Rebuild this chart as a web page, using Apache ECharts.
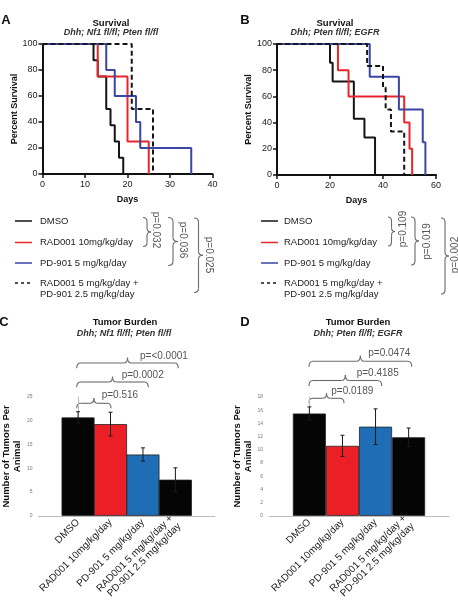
<!DOCTYPE html>
<html>
<head>
<meta charset="utf-8">
<script src="https://cdn.jsdelivr.net/npm/echarts@6/dist/echarts.min.js"></script>
<style>
html, body { margin: 0; padding: 0; background: #fff; }
#fig { width: 458px; height: 604px; }
</style>
</head>
<body>
<div id="fig"></div>
<script>
// treatment groups
const treatments = ['DMSO', 'RAD001 10mg/kg/day', 'PD-901 5 mg/kg/day', 'RAD001 5 mg/kg/day +\nPD-901 2.5 mg/kg/day'];

// A : Dhh; Nf1 fl/fl; Pten fl/fl  (days, percent survival)
const daysA_dmso = [0, 12, 13, 15, 16, 17, 18, 19];
const survA_dmso = [100, 87.5, 75, 50, 37.5, 25, 12.5, 0];
const daysA_rad = [0, 13, 20, 25];
const survA_rad = [100, 75, 25, 0];
const daysA_pd = [0, 15, 17, 22, 23, 35];
const survA_pd = [100, 80, 60, 40, 20, 0];
const daysA_combo = [0, 21, 26];
const survA_combo = [100, 50, 0];

// B : Dhh; Pten fl/fl; EGFR
const daysB_dmso = [0, 20, 21, 29, 33, 37];
const survB_dmso = [100, 85.7, 71.4, 42.9, 28.6, 0];
const daysB_rad = [0, 23, 27, 48, 50, 51];
const survB_rad = [100, 80, 60, 40, 20, 0];
const daysB_pd = [0, 35, 46, 55, 56];
const survB_pd = [100, 75, 50, 25, 0];
const daysB_combo = [0, 34, 40, 41, 43, 48];
const survB_combo = [100, 83.3, 66.7, 50, 33.3, 0];

// C / D : tumor burden, mean and error
const tumorsC = [20.7, 19.3, 12.9, 7.6];
const errC = [1.2, 2.5, 1.4, 2.5];
const tumorsD = [15.5, 10.6, 13.5, 11.9];
const errD = [1.0, 1.6, 2.7, 1.4];

// p values
const pLegendA = ['p=0.032', 'p=0.036', 'p=0.025'];
const pLegendB = ['p=0.109', 'p=0.019', 'p=0.002'];
const pBarC = ['p=0.516', 'p=0.0002', 'p=<0.0001'];
const pBarD = ['p=0.0189', 'p=0.4185', 'p=0.0474'];

const FONT = '"Liberation Sans", Arial, Helvetica, sans-serif';
const lineColors = ['#151515', '#e8262b', '#3b45a3', '#151515'];
const lineTypes = ['solid', 'solid', 'solid', [5, 3]];
const barColors = ['#050505', '#ec1f26', '#1f6db5', '#050505'];

const pairs = (d, s) => d.map((v, i) => [v, s[i]]);
const survA = [pairs(daysA_dmso, survA_dmso), pairs(daysA_rad, survA_rad), pairs(daysA_pd, survA_pd), pairs(daysA_combo, survA_combo)];
const survB = [pairs(daysB_dmso, survB_dmso), pairs(daysB_rad, survB_rad), pairs(daysB_pd, survB_pd), pairs(daysB_combo, survB_combo)];

function survX(grid, max, interval) {
    return {
        gridIndex: grid, type: 'value', min: 0, max: max, interval: interval,
        name: 'Days', nameLocation: 'middle', nameGap: 21,
        nameTextStyle: {fontFamily: FONT, fontWeight: 'bold', fontSize: 9, color: '#111'},
        axisLine: {lineStyle: {color: '#111', width: 2}},
        axisTick: {length: 4, lineStyle: {color: '#111', width: 1.5}},
        axisLabel: {fontFamily: FONT, fontSize: 9, color: '#222', margin: 6},
        splitLine: {show: false}
    };
}
function survY(grid) {
    return {
        gridIndex: grid, type: 'value', min: 0, max: 100, interval: 20,
        name: 'Percent Survival', nameLocation: 'middle', nameGap: 17,
        nameTextStyle: {fontFamily: FONT, fontWeight: 'bold', fontSize: 9, color: '#111'},
        axisLine: {show: true, lineStyle: {color: '#111', width: 2}},
        axisTick: {show: true, length: 4, lineStyle: {color: '#111', width: 1.5}},
        axisLabel: {fontFamily: FONT, fontSize: 9, color: '#222', margin: 5},
        splitLine: {show: false}
    };
}
function barX(grid) {
    return {
        gridIndex: grid, type: 'value', min: -1.22, max: 4.22,
        axisLine: {lineStyle: {color: '#bdbdbd', width: 1}},
        axisTick: {show: false},
        axisLabel: {
            customValues: [0, 1, 2, 3], formatter: v => treatments[v],
            rotate: 45, fontFamily: FONT, fontSize: 10, color: '#222', margin: 5, lineHeight: 11
        },
        splitLine: {show: false}
    };
}
function barY(grid, max, interval) {
    return {
        gridIndex: grid, type: 'value', min: 0, max: max, interval: interval,
        name: 'Number of Tumors Per\nAnimal', nameLocation: 'middle', nameGap: 10,
        nameTextStyle: {fontFamily: FONT, fontWeight: 'bold', fontSize: 9.5, color: '#111', lineHeight: 11},
        axisLine: {show: true, lineStyle: {color: '#bdbdbd', width: 1}},
        axisTick: {show: false},
        axisLabel: {fontFamily: FONT, fontSize: 5, color: '#777', margin: 6},
        splitLine: {show: false}
    };
}

const series = [];
[survA, survB].forEach((set, g) => {
    set.forEach((d, i) => {
        series.push({
            type: 'line', name: treatments[i], xAxisIndex: g, yAxisIndex: g,
            data: d, step: 'end', symbol: 'none',
            lineStyle: {color: lineColors[i], width: 2, type: lineTypes[i]}
        });
    });
});
[[tumorsC, errC], [tumorsD, errD]].forEach(([m, e], k) => {
    const g = k + 2;
    series.push({
        type: 'bar', xAxisIndex: g, yAxisIndex: g, barWidth: 33,
        data: m.map((v, i) => ({value: [i, v], itemStyle: {color: barColors[i]}})),
        itemStyle: {borderColor: '#222', borderWidth: 0.8}
    });
    series.push({
        type: 'custom', xAxisIndex: g, yAxisIndex: g, z: 5,
        data: m.map((v, i) => [i, v, e[i]]),
        encode: {x: 0, y: 1},
        renderItem: (params, api) => {
            const x = api.value(0), v = api.value(1), s = api.value(2);
            const t = api.coord([x, v + s]), b = api.coord([x, v - s]);
            const st = {stroke: '#1a1a1a', lineWidth: 1};
            return {type: 'group', children: [
                {type: 'line', shape: {x1: t[0], y1: t[1], x2: b[0], y2: b[1]}, style: st},
                {type: 'line', shape: {x1: t[0] - 2, y1: t[1], x2: t[0] + 2, y2: t[1]}, style: st},
                {type: 'line', shape: {x1: b[0] - 2, y1: b[1], x2: b[0] + 2, y2: b[1]}, style: st}
            ]};
        }
    });
});

// annotation helpers
function txt(x, y, text, font, color, align, rot) {
    return {
        type: 'text', x: x, y: y, rotation: rot || 0, silent: true,
        style: {text: text, font: font, fill: color || '#111', align: align || 'center', verticalAlign: 'middle', lineHeight: 11}
    };
}
const braceStyle = {stroke: '#6a6a6a', lineWidth: 1.1, fill: null};
const curve = (x1, y1, cx, cy, x2, y2) => ({type: 'bezierCurve', silent: true, style: braceStyle,
    shape: {x1: x1, y1: y1, cpx1: cx, cpy1: cy, x2: x2, y2: y2}});
const seg = (x1, y1, x2, y2) => ({type: 'line', silent: true, style: braceStyle, shape: {x1: x1, y1: y1, x2: x2, y2: y2}});
function braceUp(x1, x2, yEnd, yTip) {
    const xm = (x1 + x2) / 2, ym = (yEnd + yTip) / 2, r = 4;
    return {type: 'group', children: [
        curve(x1, yEnd, x1, ym, x1 + r, ym), seg(x1 + r, ym, xm - r, ym),
        curve(xm - r, ym, xm, ym, xm, yTip), curve(xm, yTip, xm, ym, xm + r, ym),
        seg(xm + r, ym, x2 - r, ym), curve(x2 - r, ym, x2, ym, x2, yEnd)
    ]};
}
function braceRight(xEnd, xTip, y1, y2) {
    const xm = (xEnd + xTip) / 2, ym = (y1 + y2) / 2, r = 4;
    return {type: 'group', children: [
        curve(xEnd, y1, xm, y1, xm, y1 + r), seg(xm, y1 + r, xm, ym - r),
        curve(xm, ym - r, xm, ym, xTip, ym), curve(xTip, ym, xm, ym, xm, ym + r),
        seg(xm, ym + r, xm, y2 - r), curve(xm, y2 - r, xm, y2, xEnd, y2)
    ]};
}

const graphics = [];
const bold = s => `bold ${s}px ${FONT}`;
const italicBold = s => `italic bold ${s}px ${FONT}`;
const plain = s => `${s}px ${FONT}`;

// panel letters and titles
graphics.push(txt(6, 20, 'A', bold(13)), txt(245, 20, 'B', bold(13)), txt(4, 322, 'C', bold(13)), txt(245, 322, 'D', bold(13)));
graphics.push(txt(111, 23, 'Survival', bold(9.5)), txt(111, 33, 'Dhh; Nf1 fl/fl; Pten fl/fl', italicBold(9), '#333'));
graphics.push(txt(335, 23, 'Survival', bold(9.5)), txt(335, 33, 'Dhh; Pten fl/fl; EGFR', italicBold(9), '#333'));
graphics.push(txt(125, 322, 'Tumor Burden', bold(9.5)), txt(124, 334, 'Dhh; Nf1 fl/fl; Pten fl/fl', italicBold(9), '#333'));
graphics.push(txt(358, 322, 'Tumor Burden', bold(9.5)), txt(358, 334, 'Dhh; Pten fl/fl; EGFR', italicBold(9), '#333'));

// legends under the survival plots
const legendRows = [221, 242.5, 263, 283];
[[15, 40], [261, 284]].forEach(([lx, tx]) => {
    treatments.forEach((name, i) => {
        const y = legendRows[i];
        graphics.push({type: 'line', silent: true, shape: {x1: lx, y1: y, x2: lx + 17, y2: y},
            style: {stroke: lineColors[i], lineWidth: 1.5, lineDash: i === 3 ? [3, 3] : null}});
        const t = txt(tx, y - 5.5, name, plain(9.5), '#222', 'left');
        t.style.verticalAlign = 'top';
        graphics.push(t);
    });
});

// legend braces with p values
const bracesA = [[143, 151, 217.5, 246.5, 155.5, 230], [168, 178, 217.5, 265.5, 183, 240], [194, 203, 218, 292.5, 209, 255]];
bracesA.forEach((b, i) => {
    graphics.push(braceRight(b[0], b[1], b[2], b[3]));
    graphics.push(txt(b[4], b[5], pLegendA[i], plain(10), '#555', 'center', -Math.PI / 2));
});
const bracesB = [[388, 395, 217, 246, 403, 229], [411, 419, 217, 265, 427, 241.5], [441, 449, 218, 294, 455, 255]];
bracesB.forEach((b, i) => {
    graphics.push(braceRight(b[0], b[1], b[2], b[3]));
    graphics.push(txt(b[4], b[5], pLegendB[i], plain(10), '#555', 'center', Math.PI / 2));
});

// comparison braces over the bars
const bracesC = [[76.7, 111, 408.3, 398.3, 101.7, 395.7], [76.7, 148.3, 387.3, 376.7, 121.7, 375.7], [76.7, 178.3, 368.3, 357.7, 140, 356.7]];
bracesC.forEach((b, i) => {
    graphics.push(braceUp(b[0], b[1], b[2], b[3]));
    graphics.push(txt(b[4], b[5], pBarC[i], plain(10), '#555', 'left'));
});
const bracesD = [[309, 344, 403.3, 393.3, 331.3, 391], [309, 381.7, 386, 375, 356.7, 373.3], [309, 411.7, 366.7, 355.7, 368.3, 353.3]];
bracesD.forEach((b, i) => {
    graphics.push(braceUp(b[0], b[1], b[2], b[3]));
    graphics.push(txt(b[4], b[5], pBarD[i], plain(10), '#555', 'left'));
});

const chart = echarts.init(document.getElementById('fig'), null, {renderer: 'canvas'});
chart.setOption({
    animation: false,
    backgroundColor: '#fff',
    grid: [
        {left: 42.5, top: 44, width: 170, height: 130},
        {left: 277, top: 44, width: 159, height: 131},
        {left: 35.7, top: 397, width: 179.3, height: 121.5},
        {left: 269, top: 397, width: 180, height: 121.5}
    ],
    xAxis: [survX(0, 40, 10), survX(1, 60, 20), barX(2), barX(3)],
    yAxis: [survY(0), survY(1), barY(2, 25, 5), barY(3, 18, 2)],
    series: series,
    graphic: graphics
});
</script>
</body>
</html>
